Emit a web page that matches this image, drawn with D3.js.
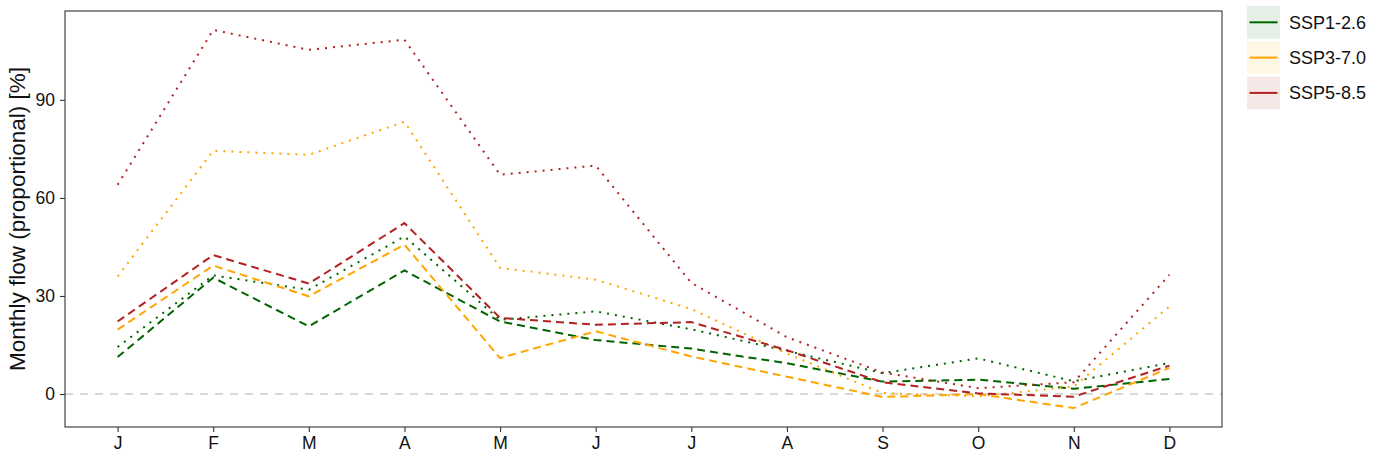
<!DOCTYPE html>
<html>
<head>
<meta charset="utf-8">
<script src="https://cdn.jsdelivr.net/npm/d3@7"></script>
<style>
  body { margin: 0; background: #fff; }
  svg { display: block; font-family: "Liberation Sans", Arial, sans-serif; }
</style>
</head>
<body>
<svg width="1382" height="457"></svg>
<script>
const months = ['J', 'F', 'M', 'A', 'M', 'J', 'J', 'A', 'S', 'O', 'N', 'D']
const yTicks = [0, 30, 60, 90]
const scenarios = ['SSP1-2.6', 'SSP3-7.0', 'SSP5-8.5']
const scenarioColors = ['#006400', '#FFA500', '#B22222']

// two periods per scenario, drawn dashed and dotted
const ssp126Dashed = [11.3, 35.6, 20.7, 37.8, 22.2, 16.5, 13.9, 9.4, 3.8, 4.4, 1.6, 4.6]
const ssp126Dotted = [14.4, 36.3, 31.9, 48.2, 22.7, 25.3, 19.8, 13.2, 6.4, 10.9, 3.9, 9.5]
const ssp370Dashed = [19.7, 39.3, 29.9, 45.7, 11.0, 19.2, 11.5, 5.3, -0.9, 0.0, -4.3, 8.0]
const ssp370Dotted = [36.0, 74.4, 73.2, 83.3, 38.6, 35.0, 26.0, 12.4, 0.3, -0.7, 2.3, 26.8]
const ssp585Dashed = [22.2, 42.5, 33.8, 52.3, 23.3, 21.2, 22.0, 13.4, 3.6, 0.2, -0.8, 8.7]
const ssp585Dotted = [64.0, 111.4, 105.3, 108.4, 67.1, 69.9, 34.0, 17.4, 6.6, 1.8, 3.6, 36.5]

const series = [
    { scenario: 'SSP1-2.6', type: 'dashed', values: ssp126Dashed },
    { scenario: 'SSP1-2.6', type: 'dotted', values: ssp126Dotted },
    { scenario: 'SSP3-7.0', type: 'dashed', values: ssp370Dashed },
    { scenario: 'SSP3-7.0', type: 'dotted', values: ssp370Dotted },
    { scenario: 'SSP5-8.5', type: 'dashed', values: ssp585Dashed },
    { scenario: 'SSP5-8.5', type: 'dotted', values: ssp585Dotted }
]

const svg = d3.select('svg')
const margin = { top: 11, right: 160, bottom: 30, left: 65 }
const w = 1222 - margin.left, h = 427 - margin.top

const colorScale = d3.scaleOrdinal().domain(scenarios).range(scenarioColors)
const dashScale = d3.scaleOrdinal().domain(['dashed', 'dotted']).range(['8,5', '2,6'])

const x = d3.scalePoint()
    .domain(d3.range(months.length))
    .range([0, w])
    .padding(0.55)

const allVals = series.flatMap(s => s.values)
const lo = d3.min(allVals), hi = d3.max(allVals)
const pad = (hi - lo) * 0.05
const y = d3.scaleLinear().domain([lo - pad, hi + pad]).range([h, 0])

const g = svg.append('g').attr('transform', `translate(${margin.left},${margin.top})`)

// zero reference line
g.append('line')
    .attr('x1', 0).attr('x2', w)
    .attr('y1', y(0)).attr('y2', y(0))
    .attr('stroke', '#cccccc')
    .attr('stroke-width', 1.6)
    .attr('stroke-dasharray', '8,7')

const line = d3.line()
    .x((d, i) => x(i))
    .y(d => y(d))

g.selectAll('path.series')
    .data(series)
    .join('path')
        .attr('class', 'series')
        .attr('d', d => line(d.values))
        .attr('fill', 'none')
        .attr('stroke', d => colorScale(d.scenario))
        .attr('stroke-width', 2)
        .attr('stroke-dasharray', d => dashScale(d.type))

// axes
const xAxis = g.append('g')
    .attr('transform', `translate(0,${h})`)
    .call(d3.axisBottom(x).tickFormat(i => months[i]).tickSize(5).tickPadding(5))
const yAxis = g.append('g')
    .call(d3.axisLeft(y).tickValues(yTicks).tickSize(5).tickPadding(5))

;[xAxis, yAxis].forEach(a => {
    a.select('.domain').remove()
    a.selectAll('line').attr('stroke', '#333').attr('stroke-width', 1.1)
    a.selectAll('text')
        .attr('fill', '#111')
        .style('font-size', '17.5px')
        .style('font-family', '"Liberation Sans", Arial, sans-serif')
})

// panel border
g.append('rect')
    .attr('width', w).attr('height', h)
    .attr('fill', 'none')
    .attr('stroke', '#333')
    .attr('stroke-width', 1.1)

// y title
svg.append('text')
    .attr('transform', `translate(25,${margin.top + h / 2}) rotate(-90)`)
    .attr('text-anchor', 'middle')
    .attr('fill', '#111')
    .style('font-size', '22.5px')
    .text('Monthly flow (proportional) [%]')

// legend
const legend = svg.append('g').attr('transform', 'translate(1247,6)')
const items = legend.selectAll('g')
    .data(scenarios)
    .join('g')
        .attr('transform', (d, i) => `translate(0,${i * 35.3})`)

items.append('rect')
    .attr('width', 33).attr('height', 32.5)
    .attr('fill', d => colorScale(d))
    .attr('fill-opacity', 0.1)

items.append('line')
    .attr('x1', 2.5).attr('x2', 30.5)
    .attr('y1', 16.3).attr('y2', 16.3)
    .attr('stroke', d => colorScale(d))
    .attr('stroke-width', 2)

items.append('text')
    .attr('x', 42)
    .attr('y', 16.3)
    .attr('dy', '0.35em')
    .attr('fill', '#111')
    .style('font-size', '18px')
    .text(d => d)
</script>
</body>
</html>
